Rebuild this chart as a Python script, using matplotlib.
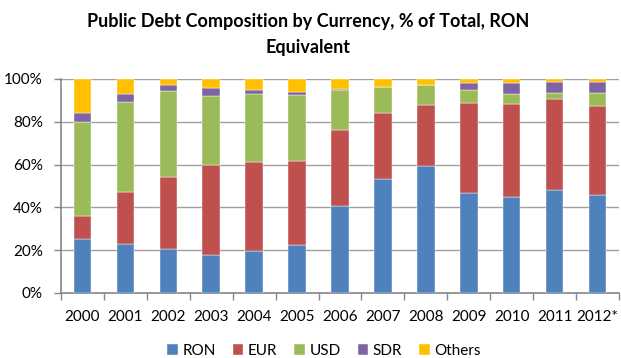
import matplotlib.pyplot as plt
import numpy as np

plt.rcParams['font.family'] = ['Lato', 'DejaVu Sans']

# Share of public debt by currency, % of total (RON equivalent)
years = ['2000', '2001', '2002', '2003', '2004', '2005', '2006',
         '2007', '2008', '2009', '2010', '2011', '2012*']
ron = [25.2, 22.8, 20.6, 17.8, 19.8, 22.5, 40.6, 53.1, 59.5, 46.9, 45.0, 48.0, 45.9]
eur = [10.7, 24.4, 33.8, 42.2, 41.6, 39.4, 35.8, 30.8, 28.2, 41.9, 43.1, 42.6, 41.3]
usd = [43.8, 42.0, 39.8, 31.9, 31.4, 30.8, 18.3, 12.4, 9.3, 6.2, 4.7, 3.0, 6.4]
sdr = [4.4, 3.6, 3.0, 3.7, 2.2, 1.4, 0.5, 0.0, 0.0, 3.0, 5.2, 4.8, 4.8]
others = [15.9, 7.2, 2.8, 4.4, 5.0, 5.9, 4.8, 3.7, 3.0, 2.0, 2.0, 1.6, 1.6]

series = [('RON', ron, '#4f81bd'), ('EUR', eur, '#c0504d'),
          ('USD', usd, '#9bbb59'), ('SDR', sdr, '#8064a2'),
          ('Others', others, '#ffc000')]

fig = plt.figure(figsize=(6.21, 3.58), dpi=100)
ax = fig.add_axes([61 / 621, 65 / 358, 558 / 621, 214 / 358])

x = np.arange(len(years))
bottom = np.zeros(len(years))
for name, vals, col in series:
    ax.bar(x, vals, 0.41, bottom=bottom, color=col, label=name,
           edgecolor='white', linewidth=0.3, zorder=3)
    bottom += np.array(vals)

ax.set_xlim(-0.5, len(years) - 0.5)
ax.set_ylim(0, 100)
ax.set_yticks(range(0, 101, 20))
ax.set_yticklabels([f'{v}%' for v in range(0, 101, 20)], fontsize=11)
ax.set_xticks(x)
ax.set_xticklabels(years, fontsize=11)
ax.set_xticks(np.arange(-0.5, len(years), 1), minor=True)
ax.tick_params(axis='x', which='major', length=0, pad=12)
ax.tick_params(axis='x', which='minor', length=5, color='#868686', width=1)
ax.tick_params(axis='y', length=5, color='#868686', width=1, pad=8)
ax.grid(axis='y', color='#a0a0a0', linewidth=1, zorder=0)

for side in ['top', 'right']:
    ax.spines[side].set_visible(False)
for side in ['left', 'bottom']:
    ax.spines[side].set_color('#868686')
    ax.spines[side].set_linewidth(1.2)

fig.text(308 / 621, 1 - 22 / 358, 'Public Debt Composition by Currency, % of Total, RON',
         ha='center', va='center', fontsize=13, fontweight='bold')
fig.text(308 / 621, 1 - 47 / 358, 'Equivalent',
         ha='center', va='center', fontsize=13, fontweight='bold')

fig.legend(loc='center', bbox_to_anchor=(324 / 621, 1 - 351 / 358), ncol=5,
           frameon=False, fontsize=11, handlelength=0.7, handleheight=0.7,
           handletextpad=0.3, columnspacing=1.1)

fig.savefig('out.png', dpi=100)
